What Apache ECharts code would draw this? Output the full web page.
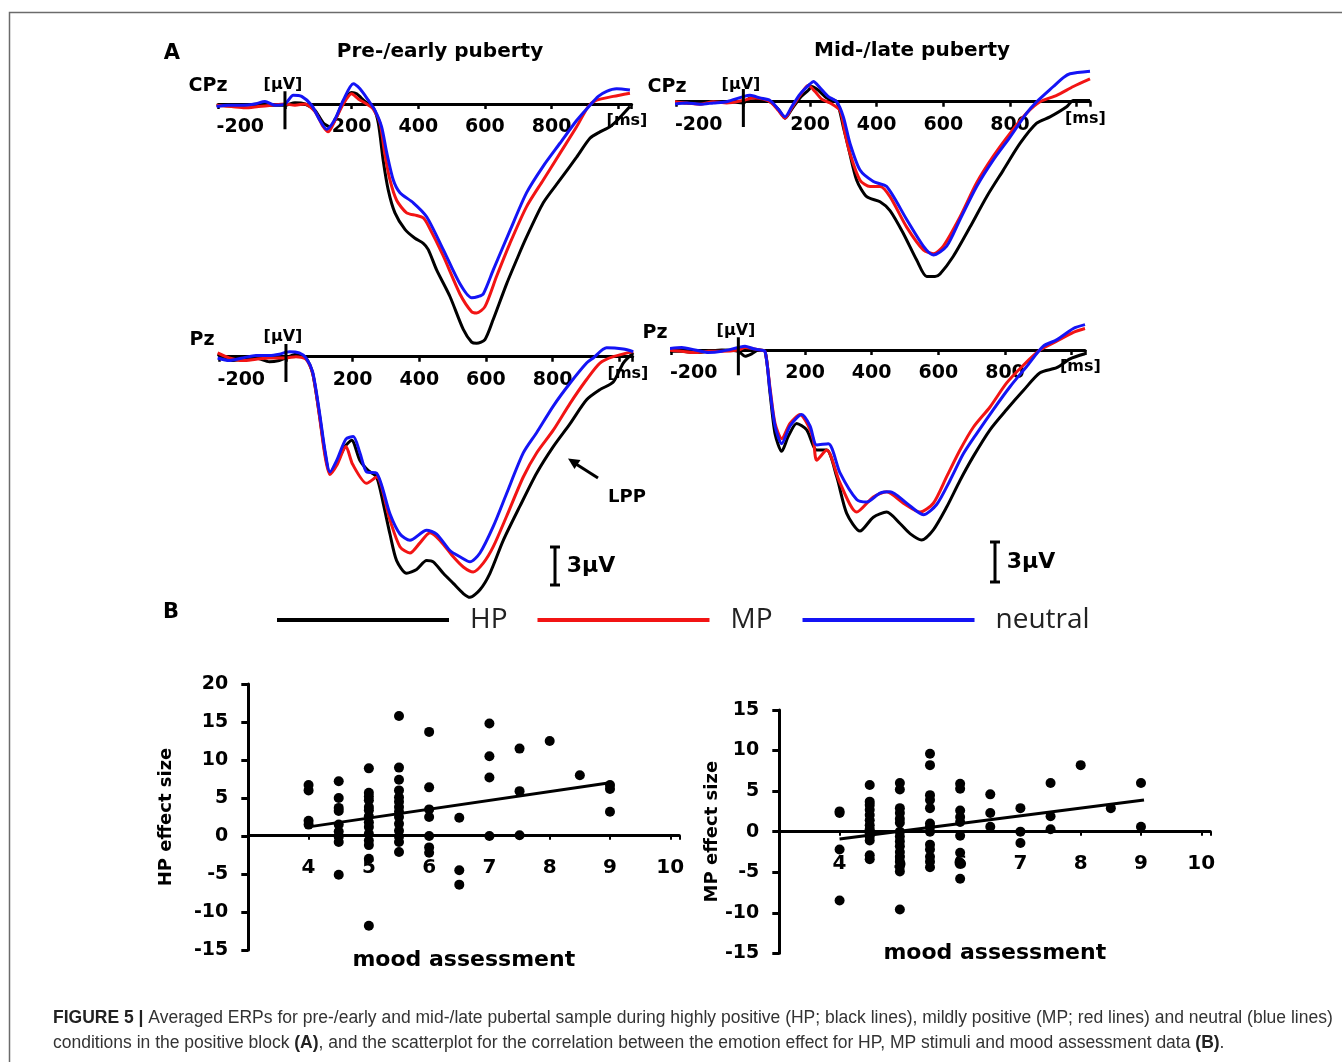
<!DOCTYPE html>
<html>
<head>
<meta charset="utf-8">
<script src="https://cdn.jsdelivr.net/npm/echarts@6/dist/echarts.min.js"></script>
<style>
html,body{margin:0;padding:0;background:#fff;}
#chart{width:1342px;height:1062px;}
</style>
</head>
<body>
<div id="chart"></div>
<script>
// ---------- DATA ----------
const conditions = ['HP', 'MP', 'neutral'];
const erpTickLabels = [-200, 200, 400, 600, 800];
const yStub = [-1.0, 2.0]; // short vertical axis at 0 ms (µV)

// Pre-/early puberty, CPz  [ms, µV] (positive plotted downward)
const cpzPreHP = [[-205,0.1],[-160,0.15],[-120,0.1],[-80,0.0],[-40,0.1],[0,0.1],[30,-0.1],[60,0.0],[90,0.5],[115,1.5],[135,1.8],[155,1.0],[175,-0.2],[200,-0.9],[215,-0.8],[240,-0.2],[265,0.3],[280,1.5],[295,4.5],[310,6.8],[330,8.6],[360,9.9],[390,10.6],[415,11.0],[430,11.5],[455,13.1],[495,15.2],[535,17.8],[560,18.8],[575,18.9],[600,18.6],[625,17.0],[665,14.2],[700,12.0],[725,10.5],[775,7.8],[825,6.0],[875,4.2],[915,2.7],[945,2.2],[975,1.8],[1000,1.2],[1035,0.2]];
const cpzPreMP = [[-205,0.1],[-160,0.2],[-120,0.3],[-80,0.2],[-40,0.1],[0,0.0],[30,0.1],[60,0.0],[90,0.6],[115,1.8],[130,2.2],[150,1.3],[175,0.0],[200,-0.8],[220,-0.4],[245,0.0],[265,0.4],[285,1.5],[300,4.0],[315,6.0],[335,7.6],[365,8.6],[395,8.8],[415,9.0],[430,9.6],[475,12.0],[525,15.0],[560,16.4],[575,16.5],[600,16.0],[635,13.6],[675,11.0],[725,8.1],[775,6.0],[825,3.9],[875,1.8],[910,0.2],[935,-0.3],[985,-0.6],[1035,-0.85]];
const cpzPreNeu = [[-205,0.2],[-170,0.1],[-130,0.1],[-90,0.0],[-60,-0.2],[-30,0.1],[0,0.0],[25,-0.7],[50,-0.6],[80,0.1],[105,1.3],[125,2.0],[150,1.2],[175,-0.3],[205,-1.6],[225,-1.2],[250,-0.3],[270,0.5],[290,1.8],[305,3.8],[325,6.0],[345,7.0],[385,7.8],[425,8.9],[475,11.5],[525,14.2],[560,15.3],[580,15.2],[595,15.0],[625,13.1],[675,10.0],[725,7.0],[775,4.9],[825,3.1],[875,1.3],[915,0.1],[940,-0.6],[965,-1.0],[995,-1.2],[1035,-1.1]];

// Mid-/late puberty, CPz
const cpzMidHP = [[-210,0.0],[-170,0.1],[-130,0.1],[-90,0.0],[-50,0.0],[0,0.1],[20,-0.3],[50,-0.2],[80,0.0],[105,0.6],[125,1.3],[145,0.6],[170,-0.3],[195,-0.9],[205,-1.2],[225,-0.9],[250,-0.3],[280,0.0],[300,2.0],[315,3.6],[340,6.2],[370,7.5],[410,7.9],[440,8.6],[480,10.4],[520,12.5],[550,13.8],[575,13.8],[590,13.6],[630,12.2],[680,9.9],[730,7.5],[780,5.4],[830,3.3],[880,1.7],[920,1.2],[970,0.4],[990,-0.1],[1040,-0.1]];
const cpzMidMP = [[-210,0.0],[-170,0.1],[-130,0.2],[-90,0.0],[-50,0.1],[0,-0.1],[30,-0.3],[60,-0.2],[85,0.1],[105,0.7],[125,1.3],[145,0.5],[170,-0.5],[195,-1.3],[215,-0.8],[235,-0.2],[260,0.1],[290,0.7],[305,2.5],[320,4.1],[350,6.2],[380,6.7],[410,6.7],[440,7.5],[490,9.9],[540,11.7],[570,12.0],[600,11.4],[650,9.1],[700,6.4],[750,4.3],[800,2.5],[850,0.9],[890,0.0],[940,-0.5],[990,-1.2],[1040,-1.8]];
const cpzMidNeu = [[-210,0.2],[-170,0.1],[-130,0.2],[-90,0.1],[-50,0.0],[0,-0.4],[20,-0.5],[50,-0.3],[80,-0.1],[105,0.6],[125,1.2],[145,0.4],[170,-0.6],[200,-1.4],[210,-1.6],[230,-1.1],[255,-0.4],[280,0.0],[300,1.2],[320,3.3],[350,5.4],[390,6.3],[430,6.7],[490,9.3],[540,11.4],[570,12.1],[610,11.4],[650,9.3],[700,6.7],[750,4.6],[800,2.8],[850,0.9],[880,0.0],[930,-1.2],[960,-1.9],[980,-2.2],[1040,-2.4]];

// Pre-/early puberty, Pz
const pzPreHP = [[-205,-0.2],[-170,0.3],[-130,0.2],[-90,0.1],[-50,0.4],[-20,0.3],[0,0.1],[30,-0.2],[60,0.1],[80,1.3],[100,4.5],[117,7.6],[132,9.2],[152,8.4],[177,7.1],[197,6.6],[222,8.2],[247,9.0],[272,9.5],[292,11.6],[312,14.0],[332,16.1],[362,17.1],[392,16.8],[422,16.1],[442,16.2],[472,17.1],[502,17.9],[532,18.7],[552,19.0],[582,18.4],[612,17.1],[652,14.5],[702,11.8],[752,9.2],[802,7.1],[852,5.3],[902,3.4],[942,2.6],[982,2.0],[1012,0.5],[1042,-0.3]];
const pzPreMP = [[-205,-0.3],[-170,0.1],[-130,0.3],[-90,0.2],[-50,0.1],[0,0.1],[30,0.0],[60,0.2],[80,1.3],[100,4.6],[117,7.8],[132,9.3],[152,8.6],[180,7.1],[200,8.5],[242,10.0],[272,9.5],[312,12.9],[342,15.0],[372,15.5],[402,14.7],[432,13.9],[462,14.5],[502,15.8],[532,16.6],[562,17.0],[592,16.3],[622,15.0],[662,12.6],[712,9.5],[752,7.6],[802,5.8],[852,3.7],[902,1.8],[942,0.5],[982,0.0],[1042,-0.4]];
const pzPreNeu = [[-205,0.1],[-170,0.3],[-130,0.1],[-90,-0.1],[-50,-0.1],[-20,-0.2],[10,-0.4],[40,-0.3],[60,0.1],[80,1.2],[100,4.3],[117,7.4],[132,9.1],[152,8.2],[180,6.5],[202,6.3],[222,7.6],[242,9.1],[272,9.2],[312,12.4],[342,14.0],[372,14.5],[422,13.7],[452,14.0],[492,15.3],[522,15.8],[552,16.2],[582,15.5],[622,13.4],[662,10.8],[712,7.6],[752,6.0],[802,3.9],[852,2.1],[902,0.5],[922,0.1],[962,-0.7],[1012,-0.6],[1042,-0.4]];

// Mid-/late puberty, Pz
const pzMidHP = [[-210,0.1],[-170,0.1],[-130,0.2],[-90,0.1],[-50,0.0],[0,0.1],[20,0.5],[40,0.3],[60,0.0],[80,0.1],[95,3.4],[110,6.6],[130,8.0],[150,6.8],[175,5.8],[205,6.3],[235,7.9],[265,7.9],[295,10.0],[325,12.9],[365,14.3],[405,13.2],[445,12.8],[485,13.7],[515,14.5],[550,15.0],[585,14.2],[625,12.4],[665,10.3],[705,8.4],[755,6.3],[805,4.7],[855,3.2],[905,1.8],[955,1.4],[995,0.7],[1040,0.3]];
const pzMidMP = [[-210,0.0],[-170,0.1],[-130,0.2],[-90,0.1],[-50,0.1],[0,0.0],[20,-0.2],[45,-0.1],[65,0.0],[80,0.1],[95,3.0],[110,5.8],[130,7.0],[155,5.8],[185,5.1],[210,6.0],[225,7.1],[235,8.7],[265,7.9],[305,10.5],[355,12.8],[405,11.6],[445,11.2],[495,12.1],[545,12.8],[585,12.1],[625,10.0],[665,7.9],[705,6.1],[755,4.5],[805,2.6],[855,1.2],[905,0.0],[955,-0.7],[1005,-1.4],[1040,-1.7]];
const pzMidNeu = [[-210,-0.1],[-170,-0.2],[-130,0.0],[-90,0.2],[-50,0.1],[0,-0.2],[20,-0.3],[45,-0.1],[65,0.0],[80,0.1],[95,3.2],[110,6.0],[130,7.4],[155,6.0],[190,5.1],[215,6.0],[235,7.5],[270,7.4],[305,9.7],[355,11.8],[385,12.0],[425,11.3],[455,11.2],[505,12.1],[555,13.0],[595,12.2],[635,10.3],[675,8.2],[715,6.6],[765,4.7],[815,2.9],[865,1.3],[915,-0.3],[955,-0.8],[1005,-1.7],[1040,-2.0]];

// Scatter: HP effect size vs mood assessment
const hpScatter = [
 [4,6.7],[4,6.0],[4,2.0],[4,1.5],
 [4.5,7.2],[4.5,5.0],[4.5,3.7],[4.5,3.3],[4.5,1.5],[4.5,0.6],[4.5,-0.1],[4.5,-0.8],[4.5,-5.1],
 [5,8.9],[5,5.7],[5,5.2],[5,4.7],[5,3.8],[5,3.4],[5,2.6],[5,1.8],[5,1.2],[5,0.3],[5,-0.6],[5,-1.2],[5,-3.0],[5,-11.8],
 [5.5,15.8],[5.5,9.0],[5.5,7.4],[5.5,6.0],[5.5,5.1],[5.5,4.5],[5.5,3.8],[5.5,3.2],[5.5,2.5],[5.5,1.6],[5.5,0.7],[5.5,-0.1],[5.5,-0.8],[5.5,-2.1],
 [6,13.7],[6,6.4],[6,3.5],[6,2.5],[6,0.0],[6,-1.5],[6,-2.2],
 [6.5,2.4],[6.5,-4.5],[6.5,-6.4],
 [7,14.8],[7,10.5],[7,7.7],[7,0.0],
 [7.5,11.5],[7.5,5.9],[7.5,0.1],
 [8,12.5],
 [8.5,8.0],
 [9,6.7],[9,6.2],[9,3.2]
];
const hpFit = [[4,1.2],[9,7.0]];

// Scatter: MP effect size vs mood assessment
const mpScatter = [
 [4,2.5],[4,2.3],[4,-2.2],[4,-8.5],
 [4.5,5.75],[4.5,3.7],[4.5,3.3],[4.5,2.7],[4.5,2.05],[4.5,1.4],[4.5,0.8],[4.5,0.3],[4.5,-0.2],[4.5,-0.6],[4.5,-1.1],[4.5,-2.9],[4.5,-3.4],
 [5,6.0],[5,5.2],[5,2.9],[5,2.3],[5,1.6],[5,1.1],[5,0.0],[5,-0.6],[5,-1.2],[5,-1.8],[5,-2.5],[5,-3.1],[5,-3.7],[5,-4.3],[5,-4.9],[5,-9.6],
 [5.5,9.6],[5.5,8.2],[5.5,4.5],[5.5,3.9],[5.5,2.9],[5.5,1.0],[5.5,0.6],[5.5,0.0],[5.5,-1.6],[5.5,-2.2],[5.5,-3.1],[5.5,-3.7],[5.5,-4.4],
 [6,5.9],[6,5.3],[6,2.6],[6,1.8],[6,1.2],[6,-0.5],[6,-2.6],[6,-3.8],[6,-5.8],
 [6.5,4.6],[6.5,2.3],[6.5,0.6],
 [7,2.9],[7,0.0],[7,-1.4],
 [7.5,6.0],[7.5,1.9],[7.5,0.3],
 [8,8.2],
 [8.5,2.9],
 [9,6.0],[9,0.6]
];
const mpFit = [[4,-0.9],[9.05,3.9]];

// ---------- STYLE ----------
const colors = {HP: '#000000', MP: '#f21414', neutral: '#1414f5'};
const boldFont = 'DejaVu Sans';

const erpGrids = [
  {left: 218.3, top: 66.0, width: 413.3, height: 291.3},
  {left: 676.7, top: 63.7, width: 413.3, height: 291.3},
  {left: 219.3, top: 318.7, width: 413.3, height: 291.3},
  {left: 671.7, top: 312.0, width: 413.3, height: 291.3}
];
const erpAxisOffset = -253.3; // places the time axis on the 0 µV line
const scatterGrids = [
  {left: 248.3, top: 684, width: 431, height: 266},
  {left: 779.3, top: 710, width: 431, height: 243.3}
];

const erpSets = [
  [cpzPreHP, cpzPreMP, cpzPreNeu],
  [cpzMidHP, cpzMidMP, cpzMidNeu],
  [pzPreHP, pzPreMP, pzPreNeu],
  [pzMidHP, pzMidMP, pzMidNeu]
];

const grid = [], xAxis = [], yAxis = [], series = [];

erpGrids.forEach((g, i) => {
  grid.push(Object.assign({containLabel: false}, g));
  xAxis.push({
    type: 'value', gridIndex: i, min: -200, max: 1040, interval: 200,
    position: 'bottom', offset: erpAxisOffset,
    axisLine: {onZero: false, lineStyle: {color: '#000', width: 3}},
    axisTick: {show: true, length: 5, lineStyle: {color: '#000', width: 2.5}},
    splitLine: {show: false},
    axisLabel: {
      margin: 14, color: '#000', fontSize: 19, fontWeight: 'bold', fontFamily: boldFont,
      formatter: function (v) {
        if (v === erpTickLabels[0]) return '{first|' + v + '}';
        return erpTickLabels.indexOf(v) >= 0 ? String(v) : '';
      },
      rich: {first: {padding: [0, 0, 0, 44], fontSize: 19, fontWeight: 'bold', fontFamily: boldFont, color: '#000'}}
    },
    name: '[ms]', nameLocation: 'end', nameGap: -25,
    nameTextStyle: {color: '#000', fontSize: 16, fontWeight: 'bold', fontFamily: boldFont, verticalAlign: 'top', padding: [9, 0, 0, 0]}
  });
  yAxis.push({type: 'value', gridIndex: i, min: -3, max: 20, inverse: true, show: false});
  erpSets[i].forEach((d, k) => {
    const nm = conditions[k];
    series.push({
      name: nm, type: 'line', xAxisIndex: i, yAxisIndex: i, data: d,
      showSymbol: false, symbol: 'none', smooth: 0.25, z: 3 + k,
      color: colors[nm],
      lineStyle: {color: colors[nm], width: 3},
      itemStyle: {color: colors[nm]},
      silent: true
    });
  });
  series.push({
    name: 'y-axis ' + i, type: 'line', xAxisIndex: i, yAxisIndex: i,
    data: [[0, yStub[0]], [0, yStub[1]]], showSymbol: false, symbol: 'none',
    lineStyle: {color: '#000', width: 3}, z: 6, silent: true
  });
});

const scatterSets = [
  {pts: hpScatter, fit: hpFit, yMin: -15, yMax: 20, yName: 'HP effect size', yGap: 73, xGap: 114, off: -114.3},
  {pts: mpScatter, fit: mpFit, yMin: -15, yMax: 15, yName: 'MP effect size', yGap: 56, xGap: 111, off: -121.6}
];
scatterGrids.forEach((g, j) => {
  const gi = 4 + j, s = scatterSets[j];
  grid.push(Object.assign({containLabel: false}, g));
  xAxis.push({
    type: 'value', gridIndex: gi, min: 3, max: 10.15, interval: 1,
    position: 'bottom', offset: s.off,
    axisLine: {onZero: false, lineStyle: {color: '#000', width: 3}},
    axisTick: {show: true, length: 4, lineStyle: {color: '#000', width: 2}},
    splitLine: {show: false},
    axisLabel: {
      margin: 22, color: '#000', fontSize: 20, fontWeight: 'bold', fontFamily: boldFont,
      formatter: v => (Number.isInteger(v) && v > 3) ? String(v) : ''
    },
    name: 'mood assessment', nameLocation: 'middle', nameGap: s.xGap,
    nameTextStyle: {color: '#000', fontSize: 22, fontWeight: 'bold', fontFamily: boldFont}
  });
  yAxis.push({
    type: 'value', gridIndex: gi, min: s.yMin, max: s.yMax, interval: 5,
    axisLine: {show: true, onZero: false, lineStyle: {color: '#000', width: 3}},
    axisTick: {show: true, length: 7, lineStyle: {color: '#000', width: 3}},
    splitLine: {show: false},
    axisLabel: {margin: 20, color: '#000', fontSize: 19, fontWeight: 'bold', fontFamily: boldFont},
    name: s.yName, nameLocation: 'middle', nameRotate: 90, nameGap: s.yGap,
    nameTextStyle: {color: '#000', fontSize: 18, fontWeight: 'bold', fontFamily: boldFont}
  });
  series.push({
    name: s.yName + ' points', type: 'scatter', xAxisIndex: gi, yAxisIndex: gi,
    data: s.pts, symbolSize: 10, itemStyle: {color: '#000', opacity: 1}, z: 4, silent: true
  });
  series.push({
    name: s.yName + ' fit', type: 'line', xAxisIndex: gi, yAxisIndex: gi,
    data: s.fit, showSymbol: false, symbol: 'none',
    lineStyle: {color: '#000', width: 3}, z: 5, silent: true
  });
});

// ---------- ANNOTATIONS ----------
function txt(text, x, y, size, weight, extra) {
  return Object.assign({
    type: 'text', x: x, y: y, silent: true,
    style: {text: text, textAlign: 'center', textVerticalAlign: 'middle',
      font: (weight || 'bold') + ' ' + size + 'px "' + boldFont + '"', fill: '#000'}
  }, extra || {});
}
function line(x1, y1, x2, y2, w) {
  return {type: 'line', silent: true, shape: {x1: x1, y1: y1, x2: x2, y2: y2},
    style: {stroke: '#000', lineWidth: w || 3}};
}

const capFont = '17.5px "Liberation Sans"';
const capBold = 'bold 17.5px "Liberation Sans"';
const graphic = [
  {type: 'rect', silent: true, shape: {x: 9.5, y: 12.5, width: 1400, height: 1100},
    style: {fill: 'none', stroke: '#6b6b6b', lineWidth: 1.5}, z: -10},
  txt('A', 172, 54, 21),
  txt('B', 171, 613, 21),
  txt('Pre-/early puberty', 440, 52, 20),
  txt('Mid-/late puberty', 912, 51, 20),
  txt('CPz', 208, 86, 19),
  txt('CPz', 667, 87, 19),
  txt('Pz', 202, 340, 19),
  txt('Pz', 655, 333, 19),
  txt('[\u03bcV]', 283, 85, 16),
  txt('[\u03bcV]', 741, 85, 16),
  txt('[\u03bcV]', 283, 337, 16),
  txt('[\u03bcV]', 736, 331, 16),
  txt('LPP', 627, 497, 18),
  line(598, 478, 576, 464, 3),
  {type: 'polygon', silent: true, shape: {points: [[568, 458.5], [580.5, 460.0], [574.5, 469.0]]}, style: {fill: '#000'}},
  line(555, 547, 555, 585, 3), line(550, 547, 560, 547, 3), line(550, 585, 560, 585, 3),
  txt('3\u03bcV', 591, 566, 22),
  line(995, 542, 995, 582, 3), line(990, 542, 1000, 542, 3), line(990, 582, 1000, 582, 3),
  txt('3\u03bcV', 1031, 562, 22),
  {type: 'text', x: 53, y: 1018, silent: true, style: {
    text: '{b|FIGURE 5 |} Averaged ERPs for pre-/early and mid-/late pubertal sample during highly positive (HP; black lines), mildly positive (MP; red lines) and neutral (blue lines)',
    textAlign: 'left', textVerticalAlign: 'middle', font: capFont, fill: '#333',
    rich: {b: {font: capBold, fill: '#222'}}}},
  {type: 'text', x: 53, y: 1043, silent: true, style: {
    text: 'conditions in the positive block {b|(A)}, and the scatterplot for the correlation between the emotion effect for HP, MP stimuli and mood assessment data {b|(B)}.',
    textAlign: 'left', textVerticalAlign: 'middle', font: capFont, fill: '#333',
    rich: {b: {font: capBold, fill: '#222'}}}}
];

const chart = echarts.init(document.getElementById('chart'), null, {renderer: 'canvas'});
chart.setOption({
  backgroundColor: '#ffffff',
  animation: false,
  legend: {
    data: conditions, left: 277, top: 606, padding: 0, icon: 'rect',
    itemWidth: 172, itemHeight: 4, itemGap: 30, selectedMode: false,
    textStyle: {fontSize: 28, fontFamily: 'Open Sans', color: '#222', padding: [0, 0, 0, 16]}
  },
  grid: grid, xAxis: xAxis, yAxis: yAxis, series: series, graphic: graphic
});
</script>
</body>
</html>
